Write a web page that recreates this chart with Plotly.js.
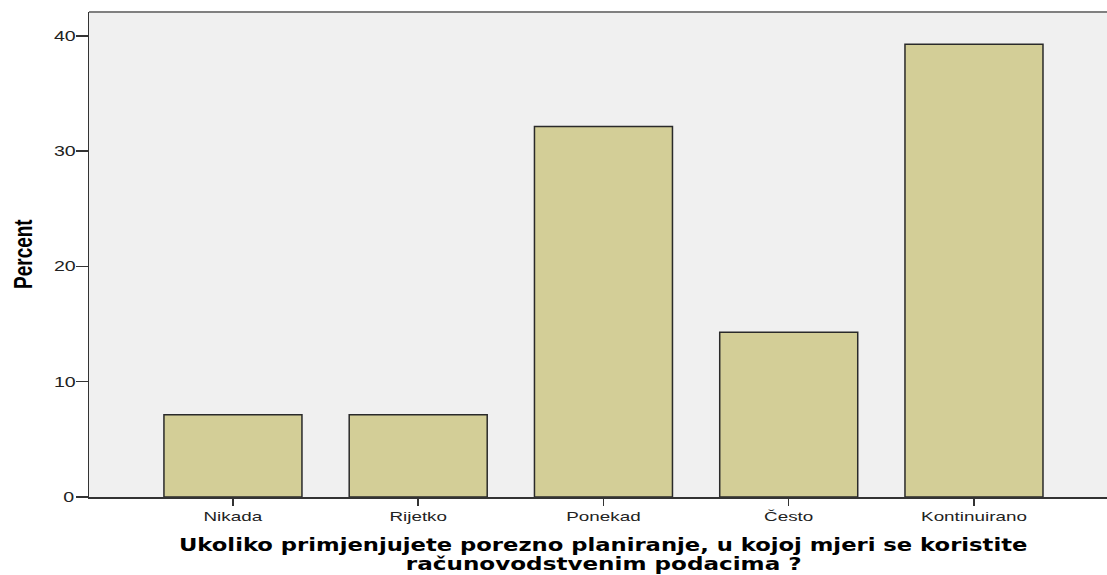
<!DOCTYPE html>
<html>
<head>
<meta charset="utf-8">
<script src="https://cdn.plot.ly/plotly-3.0.1.min.js"></script>
<style>html,body{margin:0;padding:0;background:#fff;}#chart{width:1107px;height:575px;}</style>
</head>
<body>
<div id="chart"></div>
<script>
var categories = ["Nikada", "Rijetko", "Ponekad", "Često", "Kontinuirano"];
var percents = [7.14, 7.14, 32.14, 14.29, 39.29];
var yTicks = [0, 10, 20, 30, 40];
var xTitleLine1 = "Ukoliko primjenjujete porezno planiranje, u kojoj mjeri se koristite";
var xTitleLine2 = "računovodstvenim podacima ?";
var yTitle = "Percent";

var trace = {
  type: "bar",
  x: categories,
  y: percents,
  width: 0.745,
  marker: {color: "#d3ce97", line: {color: "#2a2a2a", width: 1.5}},
  hoverinfo: "x+y"
};

var H = 575 - 12 - 78;
function py(p) { return (497 - p) / H; }
function px(p) { return (p - 89) / 1018; }

var layout = {
  width: 1107, height: 575,
  margin: {l: 89, r: 0, t: 12, b: 78},
  paper_bgcolor: "#ffffff",
  plot_bgcolor: "#f0f0f0",
  showlegend: false,
  xaxis: {
    type: "category",
    range: [-0.777, 4.718],
    showgrid: false, zeroline: false,
    showline: true, linecolor: "#333333", linewidth: 1.5,
    ticks: "outside", ticklen: 7, tickcolor: "#333333", tickwidth: 1.5,
    tickfont: {family: "Liberation Sans, Arial, sans-serif", size: 13, color: "#222"}
  },
  yaxis: {
    range: [0, 42.08],
    tickvals: yTicks,
    showgrid: false, zeroline: false,
    showline: true, linecolor: "#333333", linewidth: 1.5,
    ticks: "outside", ticklen: 12, tickcolor: "#333333", tickwidth: 1.5,
    tickfont: {family: "Liberation Sans, Arial, sans-serif", size: 14, color: "#222"}
  },
  shapes: [
    {type: "line", xref: "paper", yref: "paper", x0: 0, x1: 1, y0: 1, y1: 1, line: {color: "#808080", width: 2}}
  ],
  annotations: [
    {xref: "paper", yref: "paper", x: px(602.5), y: py(544.5), yanchor: "middle", xanchor: "center", showarrow: false,
     text: "<b>" + xTitleLine1 + "</b>",
     font: {family: "DejaVu Sans, Verdana, sans-serif", size: 17, color: "#000"}},
    {xref: "paper", yref: "paper", x: px(604), y: py(563.5), yanchor: "middle", xanchor: "center", showarrow: false,
     text: "<b>" + xTitleLine2 + "</b>",
     font: {family: "DejaVu Sans, Verdana, sans-serif", size: 17, color: "#000"}},
    {xref: "paper", yref: "paper", x: px(22), y: py(254), yanchor: "middle", xanchor: "center", showarrow: false,
     textangle: -90, text: "<b>" + yTitle + "</b>",
     font: {family: "Liberation Sans, Arial, sans-serif", size: 19, color: "#000"}}
  ]
};

// Scale a text element horizontally on screen about its centre (real text kept).
function stretch(el, s) {
  var parent = el.parentNode;
  var svg = el.ownerSVGElement;
  var r = el.getBoundingClientRect();
  var cx = r.left + r.width / 2;
  var M = parent.getScreenCTM();
  var S = svg.createSVGMatrix();
  S.a = s; S.b = 0; S.c = 0; S.d = 1; S.e = cx * (1 - s); S.f = 0;
  var full = M.inverse().multiply(S).multiply(M);
  var old = el.getAttribute("transform") || "";
  el.setAttribute("transform", "matrix(" + [full.a, full.b, full.c, full.d, full.e, full.f].join(",") + ") " + old);
}

Plotly.newPlot("chart", [trace], layout, {displayModeBar: false, staticPlot: true}).then(function (gd) {
  gd.querySelectorAll(".xtick text").forEach(function (t) { stretch(t, 1.45); });
  gd.querySelectorAll(".ytick text").forEach(function (t) { stretch(t, 1.4); });
  var ann = gd.querySelectorAll(".annotation-text");
  var targets = [849, 396];
  for (var i = 0; i < 2 && i < ann.length; i++) {
    var w = ann[i].getBoundingClientRect().width;
    stretch(ann[i], targets[i] / w);
  }
  if (ann.length > 2) stretch(ann[2], 1.4);
});
</script>
</body>
</html>
